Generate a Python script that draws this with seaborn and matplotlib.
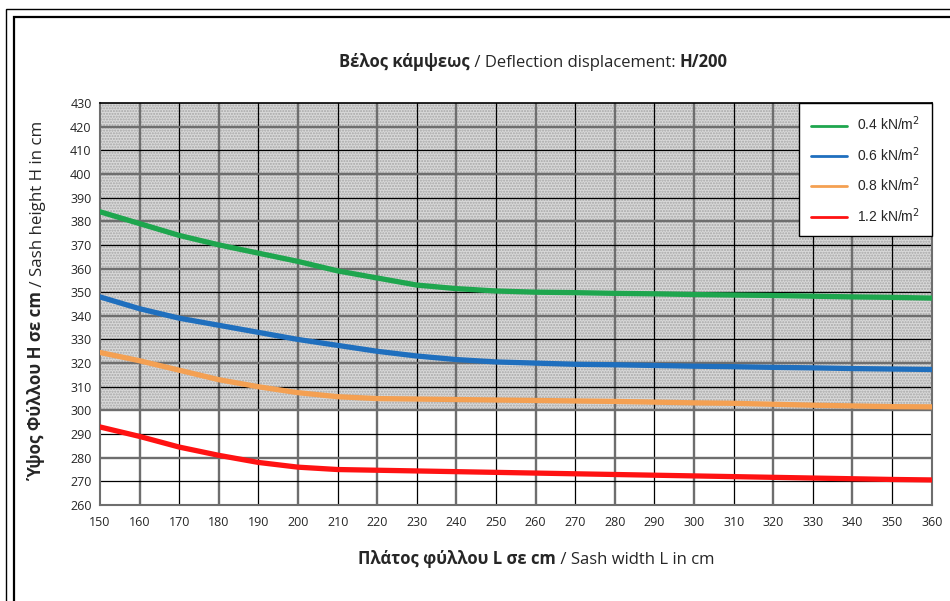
import numpy as np
import pandas as pd
import matplotlib
matplotlib.use("Agg")
import matplotlib.pyplot as plt
import matplotlib.transforms as mtransforms
from matplotlib.patches import Rectangle
from matplotlib.lines import Line2D
import seaborn as sns

# data
widths = [150, 160, 170, 180, 190, 200, 210, 220, 230, 240, 250,
          260, 270, 280, 290, 300, 310, 320, 330, 340, 350, 360]
h_04 = [384, 379, 374, 370, 366.5, 363, 359, 356, 353, 351.5, 350.5,
        350, 349.8, 349.5, 349.3, 349, 348.8, 348.6, 348.3, 348, 347.8, 347.5]
h_06 = [348, 343, 339, 336, 333, 330, 327.5, 325, 323, 321.5, 320.5,
        320, 319.5, 319.3, 319, 318.7, 318.5, 318.2, 318, 317.7, 317.5, 317.3]
h_08 = [324.5, 321, 317, 313, 310, 307.5, 305.8, 305, 304.8, 304.6, 304.4,
        304.2, 304, 303.8, 303.5, 303.2, 303, 302.6, 302.2, 301.9, 301.6, 301.5]
h_12 = [293, 289, 284.5, 281, 278, 276, 275, 274.7, 274.4, 274.1, 273.8,
        273.5, 273.2, 272.9, 272.6, 272.3, 272, 271.7, 271.4, 271.1, 270.8, 270.6]
loads = ["0.4", "0.6", "0.8", "1.2"]
colors = ["#1ea64e", "#1f6fbe", "#f4a052", "#ff1212"]
x_ticks = list(range(150, 361, 10))
y_ticks = list(range(260, 431, 10))

df = pd.DataFrame({
    "L": widths * 4,
    "H": h_04 + h_06 + h_08 + h_12,
    "load": sum([[l] * len(widths) for l in loads], []),
})

sns.set_style("white")
plt.rcParams["font.family"] = ["Open Sans", "DejaVu Sans"]

fig = plt.figure(figsize=(9.5, 6.01), dpi=100)
ax = fig.add_axes([100 / 950, 1 - 505 / 601, 831.7 / 950, 402 / 601])

# shaded zone above 300
ax.axhspan(300, 430, facecolor="#d9d9d9", edgecolor="#a6a6a6", hatch="......",
           linewidth=0, zorder=0)

# grid: every 20 thick grey, the rest thin black
for v in x_ticks:
    if v in (150, 360):
        continue
    if v % 20 == 0:
        ax.axvline(v, color="#6e6e6e", lw=1.7, zorder=1)
    else:
        ax.axvline(v, color="#000000", lw=0.9, zorder=1)
for v in y_ticks:
    if v in (260, 430):
        continue
    if v % 20 == 0:
        ax.axhline(v, color="#6e6e6e", lw=1.7, zorder=1)
    else:
        ax.axhline(v, color="#000000", lw=0.9, zorder=1)

sns.lineplot(data=df, x="L", y="H", hue="load", palette=colors, lw=3.8,
             legend=False, ax=ax, zorder=3)

ax.set_xlim(150, 360)
ax.set_ylim(260, 430)
ax.set_xticks(x_ticks)
ax.set_yticks(y_ticks)
ax.set_xlabel("")
ax.set_ylabel("")
ax.tick_params(axis="both", labelsize=9, length=3, width=0.8, color="#6e6e6e",
               pad=3)
ax.tick_params(axis="x", pad=5)
for s in ax.spines.values():
    s.set_color("#6e6e6e")
    s.set_linewidth(1.5)
ax.spines["top"].set_color("#000000")
ax.spines["top"].set_linewidth(1.2)

handles = [Line2D([], [], color=c, lw=2) for c in colors]
labels = [f"{l} kN/m$^2$" for l in loads]
leg = ax.legend(handles, labels, loc="upper right", frameon=True, fancybox=False,
                edgecolor="#000000", framealpha=1, borderaxespad=0,
                prop={"family": "Liberation Sans", "size": 10},
                handlelength=2.6, labelspacing=0.85, borderpad=0.85,
                handletextpad=0.7)
leg.get_frame().set_linewidth(1.0)
leg.set_zorder(5)


def rich_line(parts, x, y, rotation=0, size=12):
    # put bold / regular pieces one after the other on the same baseline
    prev = None
    for txt, weight in parts:
        kw = dict(fontsize=size, fontweight=weight, ha="left", va="baseline")
        if rotation:
            kw.update(rotation=90, rotation_mode="anchor")
        if prev is None:
            t = fig.text(x, y, txt, **kw)
        else:
            fig.canvas.draw()
            bb = prev.get_window_extent()
            t = fig.text(0, 0, txt, **kw)
            if rotation:
                t.set_transform(mtransforms.blended_transform_factory(
                    fig.transFigure, mtransforms.IdentityTransform()))
                t.set_position((x, bb.y1))
            else:
                t.set_transform(mtransforms.blended_transform_factory(
                    mtransforms.IdentityTransform(), fig.transFigure))
                t.set_position((bb.x1, y))
        prev = t


rich_line([("Βέλος κάμψεως", "bold"), (" / Deflection displacement: ", "normal"),
           ("H/200", "bold")], 339 / 950, 1 - 67 / 601)
rich_line([("Πλάτος φύλλου L σε cm", "bold"), (" / Sash width L in cm", "normal")],
          358 / 950, 1 - 564 / 601)
rich_line([("Ύψος Φύλλου H σε cm", "bold"), (" / Sash height H in cm", "normal")],
          42 / 950, 1 - 480 / 601, rotation=90, size=12.2)

# double frame around the whole chart
fig.add_artist(Rectangle((6 / 950, -0.1), 1.2, 1 - 9 / 601 + 0.1,
                         transform=fig.transFigure, fill=False,
                         edgecolor="#000000", lw=1.0))
fig.add_artist(Rectangle((14 / 950, -0.1), 1.2, 1 - 17 / 601 + 0.1,
                         transform=fig.transFigure, fill=False,
                         edgecolor="#000000", lw=1.6))

fig.savefig("out.png", dpi=100, facecolor="white")
